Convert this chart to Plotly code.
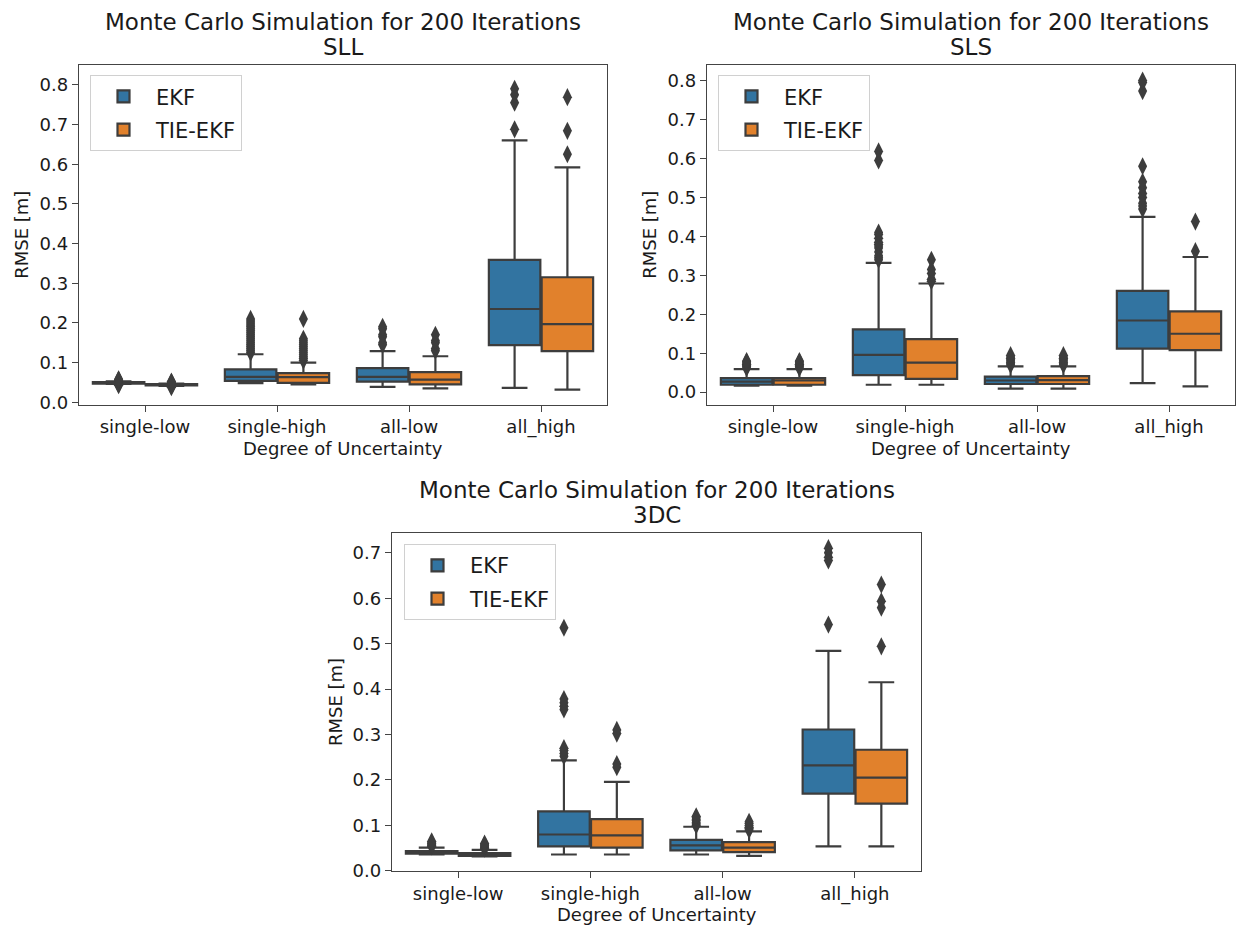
import plotly.graph_objects as go

# ---------------- data ----------------
CATEGORIES = ["single-low", "single-high", "all-low", "all_high"]
SERIES = ["EKF", "TIE-EKF"]
PANELS = ["SLL", "SLS", "3DC"]
TITLE = "Monte Carlo Simulation for 200 Iterations"
X_TITLE = "Degree of Uncertainty"
Y_TITLE = "RMSE [m]"

# SLL
SLL_EKF_Q1 = [0.047, 0.054, 0.052, 0.144]
SLL_EKF_MED = [0.049, 0.064, 0.064, 0.235]
SLL_EKF_Q3 = [0.051, 0.083, 0.086, 0.359]
SLL_EKF_LO = [0.046, 0.048, 0.039, 0.036]
SLL_EKF_HI = [0.053, 0.121, 0.129, 0.660]
SLL_EKF_OUT = [
    [0.043, 0.045, 0.055, 0.057, 0.058],
    [0.125, 0.13, 0.135, 0.14, 0.145, 0.15, 0.155, 0.16, 0.165, 0.17, 0.175,
     0.18, 0.185, 0.19, 0.195, 0.2, 0.205, 0.21],
    [0.145, 0.15, 0.165, 0.17, 0.185, 0.19],
    [0.688, 0.755, 0.775, 0.79],
]
SLL_TIE_Q1 = [0.0425, 0.049, 0.045, 0.129]
SLL_TIE_MED = [0.0445, 0.0635, 0.057, 0.197]
SLL_TIE_Q3 = [0.046, 0.0735, 0.076, 0.315]
SLL_TIE_LO = [0.041, 0.045, 0.035, 0.032]
SLL_TIE_HI = [0.047, 0.100, 0.116, 0.592]
SLL_TIE_OUT = [
    [0.038, 0.04, 0.049, 0.051, 0.052],
    [0.105, 0.11, 0.115, 0.12, 0.125, 0.13, 0.135, 0.14, 0.145, 0.15, 0.155,
     0.16, 0.21],
    [0.13, 0.135, 0.15, 0.155, 0.17],
    [0.625, 0.684, 0.769],
]

# SLS
SLS_EKF_Q1 = [0.019, 0.044, 0.021, 0.112]
SLS_EKF_MED = [0.027, 0.096, 0.030, 0.184]
SLS_EKF_Q3 = [0.036, 0.161, 0.040, 0.260]
SLS_EKF_LO = [0.017, 0.019, 0.009, 0.023]
SLS_EKF_HI = [0.059, 0.332, 0.066, 0.450]
SLS_EKF_OUT = [
    [0.062, 0.065, 0.068, 0.07, 0.072, 0.075, 0.078, 0.08],
    [0.34, 0.345, 0.35, 0.36, 0.37, 0.375, 0.38, 0.385, 0.395, 0.405, 0.41,
     0.595, 0.618],
    [0.07, 0.073, 0.076, 0.08, 0.083, 0.087, 0.09, 0.095],
    [0.47, 0.478, 0.485, 0.5, 0.51, 0.525, 0.54, 0.58, 0.773, 0.795, 0.8],
]
SLS_TIE_Q1 = [0.019, 0.034, 0.021, 0.108]
SLS_TIE_MED = [0.030, 0.076, 0.031, 0.150]
SLS_TIE_Q3 = [0.036, 0.136, 0.041, 0.2075]
SLS_TIE_LO = [0.017, 0.019, 0.009, 0.015]
SLS_TIE_HI = [0.059, 0.279, 0.066, 0.347]
SLS_TIE_OUT = [
    [0.062, 0.065, 0.068, 0.07, 0.072, 0.075, 0.078, 0.08],
    [0.285, 0.29, 0.305, 0.315, 0.34],
    [0.07, 0.073, 0.076, 0.08, 0.083, 0.087, 0.09, 0.095],
    [0.362, 0.438],
]

# 3DC
DC3_EKF_Q1 = [0.038, 0.054, 0.045, 0.170]
DC3_EKF_MED = [0.041, 0.080, 0.056, 0.232]
DC3_EKF_Q3 = [0.0435, 0.131, 0.068, 0.311]
DC3_EKF_LO = [0.036, 0.036, 0.036, 0.054]
DC3_EKF_HI = [0.051, 0.243, 0.097, 0.484]
DC3_EKF_OUT = [
    [0.054, 0.056, 0.058, 0.06, 0.062, 0.065],
    [0.252, 0.258, 0.265, 0.27, 0.355, 0.362, 0.37, 0.378, 0.535],
    [0.1, 0.103, 0.106, 0.11, 0.113, 0.117, 0.12],
    [0.542, 0.683, 0.69, 0.70, 0.71],
]
DC3_TIE_Q1 = [0.033, 0.051, 0.041, 0.148]
DC3_TIE_MED = [0.036, 0.078, 0.051, 0.205]
DC3_TIE_Q3 = [0.039, 0.114, 0.063, 0.2665]
DC3_TIE_LO = [0.032, 0.036, 0.033, 0.054]
DC3_TIE_HI = [0.046, 0.196, 0.087, 0.415]
DC3_TIE_OUT = [
    [0.049, 0.051, 0.053, 0.055, 0.058, 0.06],
    [0.228, 0.235, 0.302, 0.31],
    [0.09, 0.093, 0.096, 0.1, 0.104, 0.108],
    [0.494, 0.579, 0.593, 0.63],
]

# ---------------- styling ----------------
W, H = 1239, 937
FILL = {"EKF": "#3274a1", "TIE-EKF": "#e1812c"}
EDGE = "#3d3d3d"
FONT = "DejaVu Sans"
TXT = "#1a1a1a"

# axes boxes in pixels: left, right, top, bottom
BOXES = {
    "SLL": (79, 607, 65.7, 409),
    "SLS": (707, 1235, 65.7, 409),
    "3DC": (392, 921, 538.5, 880.7),
}
YRANGES = {"SLL": [-0.006, 0.85], "SLS": [-0.032, 0.84], "3DC": [-0.001, 0.744]}
LEGEND_POS = {"SLL": (90, 76), "SLS": (718, 76), "3DC": (404, 550)}

DATA = {
    "SLL": {
        "EKF": (SLL_EKF_Q1, SLL_EKF_MED, SLL_EKF_Q3, SLL_EKF_LO, SLL_EKF_HI, SLL_EKF_OUT),
        "TIE-EKF": (SLL_TIE_Q1, SLL_TIE_MED, SLL_TIE_Q3, SLL_TIE_LO, SLL_TIE_HI, SLL_TIE_OUT),
    },
    "SLS": {
        "EKF": (SLS_EKF_Q1, SLS_EKF_MED, SLS_EKF_Q3, SLS_EKF_LO, SLS_EKF_HI, SLS_EKF_OUT),
        "TIE-EKF": (SLS_TIE_Q1, SLS_TIE_MED, SLS_TIE_Q3, SLS_TIE_LO, SLS_TIE_HI, SLS_TIE_OUT),
    },
    "3DC": {
        "EKF": (DC3_EKF_Q1, DC3_EKF_MED, DC3_EKF_Q3, DC3_EKF_LO, DC3_EKF_HI, DC3_EKF_OUT),
        "TIE-EKF": (DC3_TIE_Q1, DC3_TIE_MED, DC3_TIE_Q3, DC3_TIE_LO, DC3_TIE_HI, DC3_TIE_OUT),
    },
}

BOX_W = 0.39
OFFSETS = {"EKF": -0.2, "TIE-EKF": 0.2}

fig = go.Figure()
layout = {}
annotations = []


def px_x(p):
    return p / W


def px_y(p):
    return 1 - p / H


for k, panel in enumerate(PANELS):
    suffix = "" if k == 0 else str(k + 1)
    xa, ya = "x" + suffix, "y" + suffix
    leg = "legend" + suffix
    for s in SERIES:
        q1, med, q3, lo, hi, out = DATA[panel][s]
        pos = [i + OFFSETS[s] for i in range(len(CATEGORIES))]
        fig.add_trace(go.Box(
            x=pos, q1=q1, median=med, q3=q3, lowerfence=lo, upperfence=hi,
            width=BOX_W, whiskerwidth=0.5, fillcolor=FILL[s],
            line=dict(color=EDGE, width=2.2), name=s, legend=leg,
            legendgroup=panel + s, boxpoints=False,
            xaxis=xa, yaxis=ya,
        ))
        ox, oy = [], []
        for p, vals in zip(pos, out):
            ox += [p] * len(vals)
            oy += vals
        fig.add_trace(go.Scatter(
            x=ox, y=oy, mode="markers",
            marker=dict(symbol="diamond-tall", size=13, color=EDGE,
                        line=dict(width=0)),
            showlegend=False, xaxis=xa, yaxis=ya, hoverinfo="y",
        ))

    l, r, t, b = BOXES[panel]
    common = dict(showline=True, mirror=True, linecolor="#444444", linewidth=1.3,
                  ticks="outside", ticklen=6, tickwidth=1.3, tickcolor="#444444",
                  showgrid=False, zeroline=False,
                  tickfont=dict(family=FONT, size=18, color=TXT))
    layout["xaxis" + suffix] = dict(
        domain=[px_x(l), px_x(r)], anchor=ya, range=[-0.5, 3.5],
        tickmode="array", tickvals=list(range(len(CATEGORIES))),
        ticktext=CATEGORIES, **common)
    layout["yaxis" + suffix] = dict(
        domain=[px_y(b), px_y(t)], anchor=xa, range=YRANGES[panel],
        dtick=0.1, tick0=0, tickformat=".1f", **common)
    lx, ly = LEGEND_POS[panel]
    layout[leg] = dict(
        x=px_x(lx), y=px_y(ly), xanchor="left", yanchor="top",
        bgcolor="rgba(255,255,255,0.9)", bordercolor="#d0d0d0", borderwidth=1,
        font=dict(family=FONT, size=21, color=TXT), tracegroupgap=3,
        itemwidth=55,
    )
    cx = (l + r) / 2
    cy = (t + b) / 2
    annotations += [
        dict(text=TITLE, x=px_x(cx), y=px_y(t - 43), xref="paper", yref="paper",
             xanchor="center", yanchor="middle", showarrow=False,
             font=dict(family=FONT, size=23, color=TXT)),
        dict(text=panel, x=px_x(cx), y=px_y(t - 18), xref="paper", yref="paper",
             xanchor="center", yanchor="middle", showarrow=False,
             font=dict(family=FONT, size=23, color=TXT)),
        dict(text=X_TITLE, x=px_x(cx), y=px_y(b + 44), xref="paper", yref="paper",
             xanchor="center", yanchor="middle", showarrow=False,
             font=dict(family=FONT, size=18, color=TXT)),
        dict(text=Y_TITLE, x=px_x(l - 57), y=px_y(cy), xref="paper", yref="paper",
             xanchor="center", yanchor="middle", showarrow=False, textangle=-90,
             font=dict(family=FONT, size=18, color=TXT)),
    ]

fig.update_layout(
    width=W, height=H, autosize=False,
    margin=dict(l=0, r=0, t=0, b=0),
    paper_bgcolor="white", plot_bgcolor="white",
    annotations=annotations,
    **layout,
)

fig.write_html("out.html")
